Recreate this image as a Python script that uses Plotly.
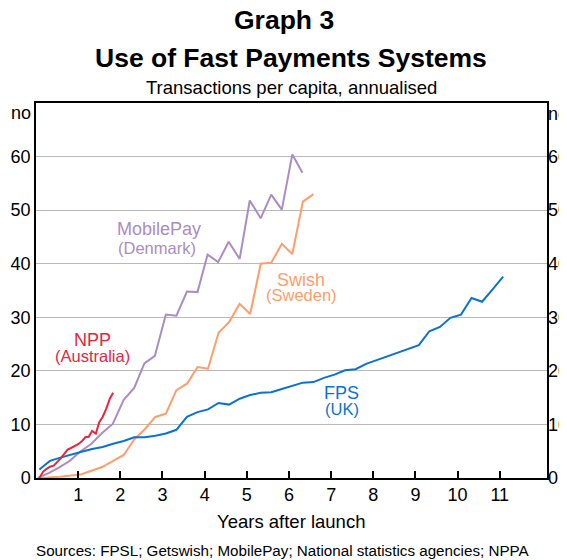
import plotly.graph_objects as go

# ---------------- data ----------------
mobilepay_x = [0.04, 0.3, 0.55, 0.8, 1.06, 1.3, 1.58, 1.82, 2.08, 2.33, 2.57, 2.82, 3.08, 3.33,
               3.58, 3.83, 4.07, 4.32, 4.57, 4.83, 5.07, 5.33, 5.58, 5.83, 6.08, 6.32]
mobilepay_y = [0.0, 0.9, 2.0, 3.2, 5.0, 6.3, 8.5, 10.1, 14.6, 16.8, 21.4, 22.8, 30.5, 30.3,
               34.8, 34.7, 41.7, 40.3, 44.1, 40.9, 51.8, 48.5, 52.9, 50.1, 60.4, 57.0]

swish_x = [0.08, 0.33, 0.58, 0.83, 1.08, 1.33, 1.58, 1.83, 2.08, 2.33, 2.58, 2.83, 3.08, 3.33,
           3.58, 3.83, 4.08, 4.33, 4.58, 4.83, 5.08, 5.33, 5.58, 5.83, 6.08, 6.33, 6.58]
swish_y = [0.0, 0.1, 0.25, 0.45, 0.7, 1.4, 2.1, 3.2, 4.3, 7.2, 9.1, 11.4, 12.0, 16.4,
           17.6, 20.7, 20.4, 27.1, 29.1, 32.5, 30.6, 40.0, 40.2, 43.7, 41.8, 51.6, 53.0]

npp_x = [0.08, 0.17, 0.25, 0.33, 0.42, 0.5, 0.58, 0.67, 0.75, 0.83, 0.92, 1.0, 1.08, 1.17,
         1.25, 1.33, 1.42, 1.5, 1.58, 1.67, 1.75, 1.83]
npp_y = [0.0, 1.2, 1.7, 2.1, 2.3, 2.9, 3.6, 4.5, 5.3, 5.6, 5.9, 6.3, 6.8, 7.6,
         7.7, 8.8, 8.3, 10.4, 11.4, 13.0, 14.8, 15.9]

fps_x = [0.08, 0.33, 0.58, 0.83, 1.08, 1.33, 1.58, 1.83, 2.08, 2.33, 2.58, 2.83, 3.08, 3.33,
         3.58, 3.83, 4.08, 4.33, 4.58, 4.83, 5.08, 5.33, 5.58, 5.83, 6.08, 6.33, 6.58, 6.83,
         7.08, 7.33, 7.58, 7.83, 8.08, 8.33, 8.58, 8.83, 9.08, 9.33, 9.58, 9.83, 10.08, 10.33,
         10.58, 10.83, 11.08]
fps_y = [1.6, 3.2, 3.8, 4.4, 4.9, 5.4, 5.8, 6.4, 6.9, 7.6, 7.6, 7.9, 8.3, 9.0,
         11.4, 12.3, 12.8, 14.0, 13.7, 14.8, 15.5, 15.9, 16.0, 16.6, 17.2, 17.8, 17.9, 18.7,
         19.3, 20.1, 20.3, 21.3, 22.0, 22.7, 23.5, 24.1, 24.8, 27.4, 28.2, 29.9, 30.5, 33.6,
         32.9, 35.2, 37.6]

x_ticks = [1, 2, 3, 4, 5, 6, 7, 8, 9, 10, 11]
y_ticks = [0, 10, 20, 30, 40, 50, 60]

# ---------------- styling ----------------
FONT = "Arial, Liberation Sans, sans-serif"
C_MP = "#ab8cc3"
C_SW = "#ff9d6a"
C_NPP = "#e8253f"
C_FPS = "#0a72d0"

OFF = 8  # page body margin offset
W, H = 567, 560 - OFF
L, R, T, B = 36 - OFF, 547 - OFF, 103 - OFF, 478 - OFF


def px(xp):
    return (xp - OFF - L) / (R - L)


def py(yp):
    return (B - (yp - OFF)) / (B - T)


fig = go.Figure()
for xs, ys, c, n in [(mobilepay_x, mobilepay_y, C_MP, "MobilePay"),
                     (swish_x, swish_y, C_SW, "Swish"),
                     (fps_x, fps_y, C_FPS, "FPS"),
                     (npp_x, npp_y, C_NPP, "NPP")]:
    fig.add_trace(go.Scatter(x=xs, y=ys, mode="lines", name=n,
                             line=dict(color=c, width=2), showlegend=False))

# invisible trace so the right axis is drawn
fig.add_trace(go.Scatter(x=[0], y=[0], yaxis="y2", mode="lines",
                         line=dict(width=0), showlegend=False, hoverinfo="skip"))

annotations = []


def ann(text, x, y, size, color="black", bold=False, xanchor="center", xref="paper", yref="paper"):
    t = f"<b>{text}</b>" if bold else text
    annotations.append(dict(text=t, x=x, y=y, xref=xref, yref=yref, showarrow=False,
                            xanchor=xanchor, yanchor="middle",
                            font=dict(family=FONT, size=size, color=color)))


ann("Graph 3", px(283.5), py(19.5), 26.5, bold=True)
ann("Use of Fast Payments Systems", px(291), py(58), 26.5, bold=True)
ann("Transactions per capita, annualised", px(291), py(88), 18.5)
ann("no", px(33), py(113), 18, xanchor="right")
ann("Years after launch", px(291), py(521), 18.5)
ann("Sources: FPSL; Getswish; MobilePay; National statistics agencies; NPPA", px(34), py(550), 15.2,
    xanchor="left")

# series labels (data coordinates)
ann("MobilePay", 2.92, 46.4, 18, C_MP, xref="x", yref="y")
ann("(Denmark)", 2.86, 43.0, 16.5, C_MP, xref="x", yref="y")
ann("Swish", 6.29, 37.0, 18, C_SW, xref="x", yref="y")
ann("(Sweden)", 6.29, 34.2, 16.5, C_SW, xref="x", yref="y")
ann("NPP", 1.34, 25.7, 18, C_NPP, xref="x", yref="y")
ann("(Australia)", 1.33, 22.7, 16.5, C_NPP, xref="x", yref="y")
ann("FPS", 7.25, 15.9, 18, C_FPS, xref="x", yref="y")
ann("(UK)", 7.25, 12.8, 16.5, C_FPS, xref="x", yref="y")

# right axis: ticks plus the "no" unit label as a tick at the top
right_vals = y_ticks + [68]
right_text = [str(v) for v in y_ticks] + ["no"]

fig.update_layout(
    width=W, height=H,
    margin=dict(l=L, r=W - R, t=T, b=H - B, autoexpand=False),
    paper_bgcolor="white", plot_bgcolor="white",
    font=dict(family=FONT, size=18, color="black"),
    annotations=annotations,
    xaxis=dict(range=[0, 12.12], tickvals=x_ticks, ticktext=[str(v) for v in x_ticks],
               ticks="inside", ticklen=7, tickwidth=1.5, tickcolor="black",
               showline=True, linecolor="black", linewidth=1.5, mirror=True,
               showgrid=False, zeroline=False, tickfont=dict(size=18),
               automargin=False),
    yaxis=dict(range=[0, 70], tickvals=y_ticks, ticktext=[str(v) for v in y_ticks],
               ticks="", showline=True, linecolor="black", linewidth=1.5, mirror=True,
               showgrid=True, gridcolor="#b9b9b9", gridwidth=1.3, zeroline=False,
               tickfont=dict(size=18), automargin=False),
    yaxis2=dict(range=[0, 70], tickvals=right_vals, ticktext=right_text,
                overlaying="y", side="right", ticks="", showline=False, showgrid=False,
                zeroline=False, tickfont=dict(size=18), automargin=False),
)

fig.write_html("out.html")
